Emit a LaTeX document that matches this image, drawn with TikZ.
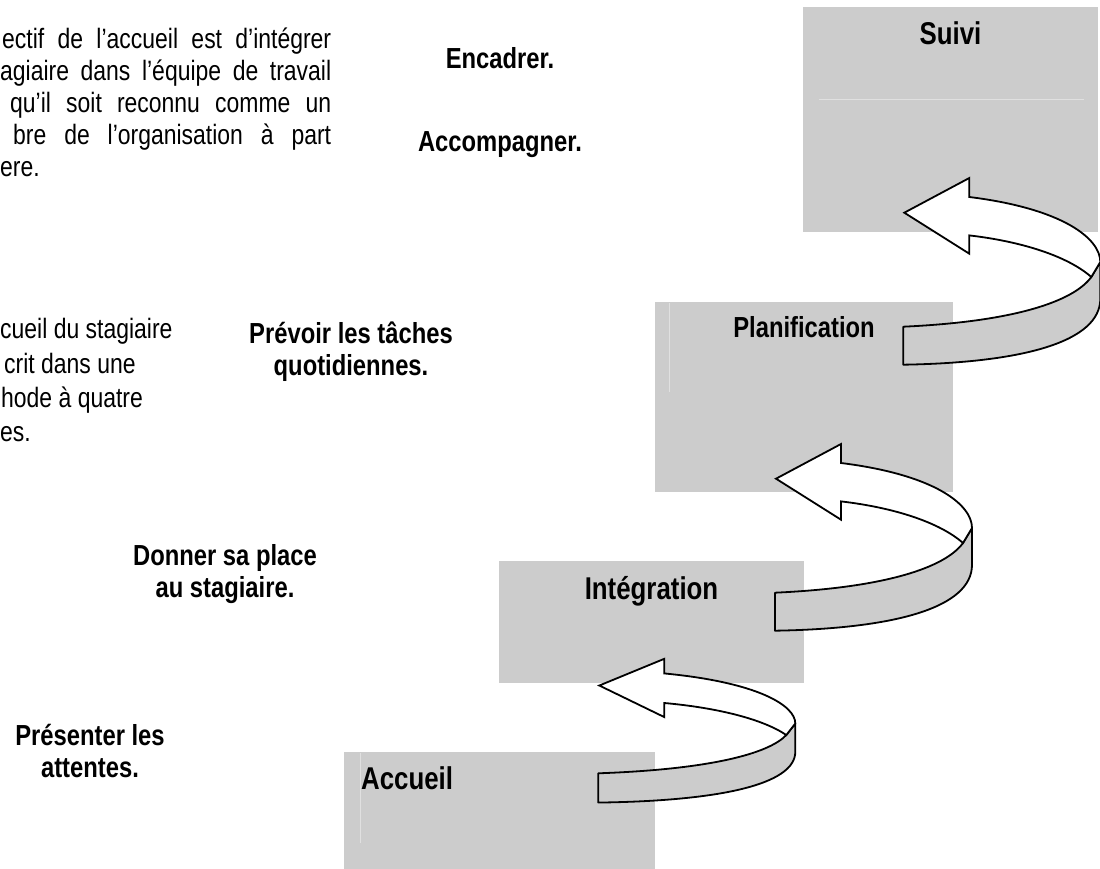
\documentclass[tikz,border=0pt]{standalone}
\usepackage{fontspec}
\setmainfont{Liberation Sans}[FakeStretch=0.82]
\usetikzlibrary{positioning}
\definecolor{stepgray}{RGB}{204,204,204}
\definecolor{seam}{RGB}{224,224,224}

\begin{document}
\begin{tikzpicture}[x=1pt,y=-1pt,
    stage/.style={fill=stepgray,inner sep=0pt,anchor=north west},
    stagetitle/.style={font=\fontsize{31.5}{36}\selectfont\bfseries,inner sep=0pt,anchor=base},
    act/.style={font=\fontsize{29}{32}\selectfont\bfseries,align=center,inner sep=0pt,anchor=base},
    body/.style={font=\fontsize{28}{32}\selectfont,inner sep=0pt,anchor=base west},
    pics/twist/.style={code={
      % lower (grey) side of the ribbon
      \filldraw[fill=stepgray,draw=black,line width=1.8pt,line join=round]
        (0,0) .. controls (110,-5) and (170,-25) .. (188,-49.7) -- (197,-64.7)
        -- (197,-28) .. controls (197,15) and (120,36) .. (0,38) -- cycle;
      % upper (white) side with the head
      \filldraw[fill=white,draw=black,line width=1.8pt,line join=miter]
        (197,-64.7) .. controls (197,-88) and (160,-118) .. (66,-129.7)
        -- (66,-148.7) -- (1,-114) -- (66,-73) -- (66,-91.3)
        .. controls (120,-85) and (165,-70) .. (188,-49.7) -- cycle;
    }}]
  \useasboundingbox (0,0) rectangle (1100,869);
  \fill[white] (0,0) rectangle (1100,869);

  % the four steps
  \node[stage,minimum width=311pt,minimum height=117pt] (accueil) at (344,752) {};
  \node[stage,minimum width=305pt,minimum height=122pt] (integ) at (499,561) {};
  \node[stage,minimum width=298pt,minimum height=190pt] (planif) at (655,302) {};
  \node[stage,minimum width=295pt,minimum height=225pt] (suivi) at (803,7) {};
  \draw[seam,line width=1pt] (819,100) -- (1084,100);
  \draw[seam,line width=1pt] (669,303) -- (669,392);
  \draw[seam,line width=1pt] (360,753) -- (360,843);

  \node[stagetitle] (t-suivi) at (950.5,45) {Suivi};
  \node[stagetitle,font=\fontsize{29}{33}\selectfont\bfseries] (t-planif) at (804,337) {Planification};
  \node[stagetitle] (t-integ) at (651.5,599) {Intégration};
  \node[stagetitle,anchor=base west] (t-accueil) at (361,789) {Accueil};

  % ribbons from one step to the next
  \pic[yscale=0.77] (up-a) at (598.3,773.3) {twist};
  \pic (up-b) at (775,592.7) {twist};
  \pic (up-c) at (903.3,326.7) {twist};

  % actions
  \node[act] (encadrer) at (500,69) {Encadrer.};
  \node[act] (accomp) at (500,152) {Accompagner.};
  \node[act] (prevoir) at (351,375) {Prévoir les tâches\\quotidiennes.};
  \node[act] (donner) at (225,597) {Donner sa place\\au stagiaire.};
  \node[act] (attentes) at (90,777) {Présenter les\\attentes.};

  % text cut by the left margin
  \foreach \xx/\yy/\ww/\txt [count=\i] in {
      2/49/329/{ectif de l’accueil est d’intégrer},
      0/81/331/{agiaire dans l’équipe de travail},
      10/113/321/{qu’il soit reconnu comme un},
      13/145/318/{bre de l’organisation à part}}
    \node[body] (goal-\i) at (\xx,\yy) {\makebox[\ww pt][s]{\txt}};
  \node[body] (goal-5) at (0,177) {ere.};

  \node[body] (method-1) at (0,338) {cueil du stagiaire};
  \node[body] (method-2) at (4,373) {crit dans une};
  \node[body] (method-3) at (1,407) {hode à quatre};
  \node[body] (method-4) at (0,441) {es.};
\end{tikzpicture}
\end{document}
